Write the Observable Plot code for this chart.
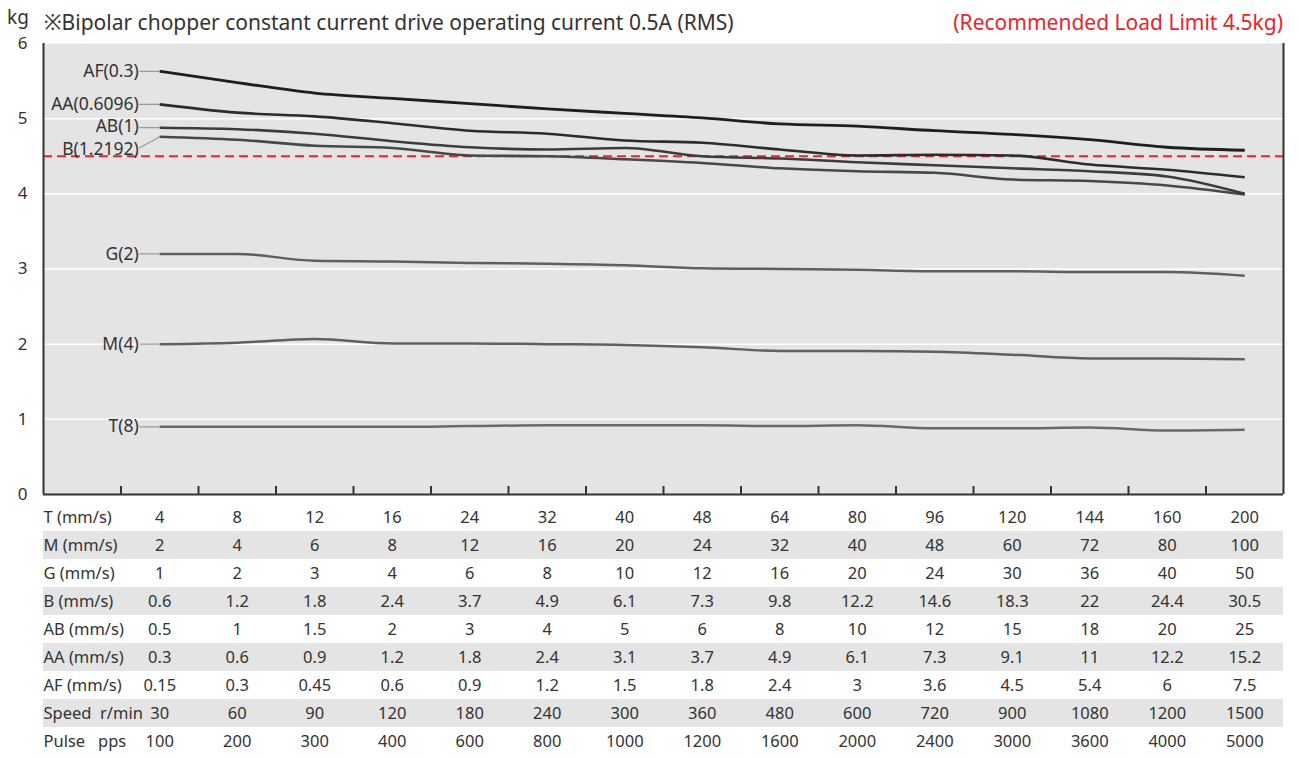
<!DOCTYPE html>
<html><head><meta charset="utf-8">
<script src="https://cdn.jsdelivr.net/npm/d3@7"></script>
<script src="https://cdn.jsdelivr.net/npm/@observablehq/plot@0.6"></script>
<style>
body{margin:0;background:#fff;font-family:"Noto Sans",sans-serif;color:#333;}
#wrap{width:1298px;}
#head{position:relative;height:34px;white-space:nowrap;}
#kg{position:absolute;left:7px;top:3px;font-size:19px;line-height:28px;}
#title{position:absolute;left:44px;top:8px;font-size:21px;line-height:28px;}
#note{position:absolute;right:15px;top:8px;font-size:21px;line-height:28px;color:#e8242c;}
svg{display:block;}
</style></head><body>
<div id="wrap">
<div id="head"><span id="kg">kg</span><span id="title">※Bipolar chopper constant current drive operating current 0.5A (RMS)</span><span id="note">(Recommended Load Limit 4.5kg)</span></div>
<div id="chart"></div>
<div id="table"></div>
</div>
<script>
// ---- data ----
const seriesNames = ["AF(0.3)", "AA(0.6096)", "AB(1)", "B(1.2192)", "G(2)", "M(4)", "T(8)"];
const AF = [5.63, 5.48, 5.34, 5.27, 5.20, 5.13, 5.07, 5.01, 4.93, 4.90, 4.84, 4.79, 4.72, 4.62, 4.58];
const AA = [5.19, 5.08, 5.03, 4.94, 4.84, 4.80, 4.71, 4.68, 4.59, 4.51, 4.52, 4.51, 4.39, 4.32, 4.22];
const AB = [4.88, 4.86, 4.80, 4.70, 4.62, 4.59, 4.61, 4.50, 4.47, 4.42, 4.38, 4.34, 4.30, 4.23, 4.00];
const B  = [4.76, 4.72, 4.64, 4.61, 4.51, 4.50, 4.46, 4.41, 4.34, 4.30, 4.28, 4.19, 4.17, 4.11, 3.99];
const G  = [3.20, 3.20, 3.11, 3.10, 3.08, 3.07, 3.05, 3.01, 3.00, 2.99, 2.97, 2.97, 2.96, 2.96, 2.91];
const M  = [2.00, 2.02, 2.07, 2.01, 2.01, 2.00, 1.99, 1.96, 1.91, 1.91, 1.90, 1.86, 1.81, 1.81, 1.80];
const T  = [0.90, 0.90, 0.90, 0.90, 0.91, 0.92, 0.92, 0.92, 0.91, 0.92, 0.88, 0.88, 0.89, 0.85, 0.86];
const seriesValues = [AF, AA, AB, B, G, M, T];
const loadLimit = 4.5;
const yTicks = [0, 1, 2, 3, 4, 5, 6];
const gridValues = [1, 2, 3, 4, 5];

const rowLabels = ["T (mm/s)", "M (mm/s)", "G (mm/s)", "B (mm/s)", "AB (mm/s)", "AA (mm/s)", "AF (mm/s)", "Speed\u00a0\u00a0r/min", "Pulse\u00a0\u00a0\u00a0pps"];
const rowT     = ["4","8","12","16","24","32","40","48","64","80","96","120","144","160","200"];
const rowM     = ["2","4","6","8","12","16","20","24","32","40","48","60","72","80","100"];
const rowG     = ["1","2","3","4","6","8","10","12","16","20","24","30","36","40","50"];
const rowB     = ["0.6","1.2","1.8","2.4","3.7","4.9","6.1","7.3","9.8","12.2","14.6","18.3","22","24.4","30.5"];
const rowAB    = ["0.5","1","1.5","2","3","4","5","6","8","10","12","15","18","20","25"];
const rowAA    = ["0.3","0.6","0.9","1.2","1.8","2.4","3.1","3.7","4.9","6.1","7.3","9.1","11","12.2","15.2"];
const rowAF    = ["0.15","0.3","0.45","0.6","0.9","1.2","1.5","1.8","2.4","3","3.6","4.5","5.4","6","7.5"];
const rowSpeed = ["30","60","90","120","180","240","300","360","480","600","720","900","1080","1200","1500"];
const rowPulse = ["100","200","300","400","600","800","1000","1200","1600","2000","2400","3000","3600","4000","5000"];
const tableRows = [rowT, rowM, rowG, rowB, rowAB, rowAA, rowAF, rowSpeed, rowPulse];

// ---- styles ----
const lineColors = ["#1e1e1e", "#2c2c2c", "#3c3c3c", "#484848", "#5f5f5f", "#606060", "#686868"];
const lineWidths = [2.8, 2.6, 2.6, 2.6, 2.5, 2.5, 2.5];
const labelDy = [0, 0, -1, 13, 0, 0, 0];
const leaderDy = [0, 0, 0, 11, 0, 0, 0];

// x slots: first slot is the row-label column, then 15 data columns
const nCols = rowPulse.length;
const xDomain = [0, nCols + 1];
const colPos = rowPulse.map((_, i) => i + 1.5);
const tickPos = rowPulse.map((_, i) => i + 1);

const lineData = [];
seriesNames.forEach((s, k) => seriesValues[k].forEach((v, i) => lineData.push({series: s, pos: colPos[i], value: v})));

const leaderShape = {draw(context, l) { context.moveTo(0, 0); context.lineTo(0, -l); }};

const marks = [
  Plot.frame({fill: "#e3e4e3", stroke: null}),
  Plot.ruleY(gridValues, {stroke: "#fff", strokeWidth: 1.5}),
  Plot.ruleY([loadLimit], {stroke: "#e8242c", strokeWidth: 2, strokeDasharray: "9,5"}),
];
seriesNames.forEach((s, k) => {
  const first = [{pos: colPos[0], value: seriesValues[k][0], label: s}];
  const gap = 20;
  marks.push(Plot.vector(first, {
    x: "pos", y: "value", anchor: "start", shape: leaderShape,
    length: Math.hypot(gap, leaderDy[k]),
    rotate: 270 - Math.atan2(leaderDy[k], gap) * 180 / Math.PI,
    stroke: "#9a9a9a", strokeWidth: 1.2
  }));
  marks.push(Plot.text(first, {
    x: "pos", y: "value", text: "label", textAnchor: "end",
    dx: -gap - 1, dy: labelDy[k], fontSize: 17.5, fill: "#333"
  }));
});
seriesNames.slice().reverse().forEach((s) => {
  const k = seriesNames.indexOf(s);
  marks.push(Plot.line(lineData.filter(d => d.series === s), {
    x: "pos", y: "value", curve: "monotone-x",
    stroke: lineColors[k], strokeWidth: lineWidths[k], strokeLinecap: "butt"
  }));
});
marks.push(
  Plot.ruleX(tickPos, {y1: 0, y2: 0, insetTop: -8, stroke: "#333", strokeWidth: 2}),
  Plot.ruleX([xDomain[0], xDomain[1]], {stroke: "#333", strokeWidth: 2}),
  Plot.ruleY([0], {stroke: "#333", strokeWidth: 2}),
  Plot.axisY(yTicks, {tickSize: 0, tickPadding: 16, fontSize: 17, label: null, fill: "#333", tickFormat: d => String(d)})
);

const chart = Plot.plot({
  width: 1298, height: 466,
  marginLeft: 43, marginRight: 15, marginTop: 9, marginBottom: 6,
  style: {fontFamily: "Noto Sans", background: "transparent", overflow: "visible"},
  x: {domain: xDomain, axis: null},
  y: {domain: [0, 6], axis: null},
  marks
});
document.getElementById("chart").append(chart);

// ---- table ----
const cells = [];
tableRows.forEach((r, j) => r.forEach((t, i) => cells.push({row: rowLabels[j], pos: colPos[i], text: t})));
const greyRows = rowLabels.filter((_, j) => j % 2 === 1);
const table = Plot.plot({
  width: 1298, height: 258,
  marginLeft: 43, marginRight: 15, marginTop: 0, marginBottom: 0,
  style: {fontFamily: "Noto Sans", background: "transparent"},
  x: {domain: xDomain, axis: null},
  y: {type: "band", domain: rowLabels, padding: 0, axis: null},
  marks: [
    Plot.barX(greyRows, {x1: xDomain[0], x2: xDomain[1], y: d => d, fill: "#e3e4e3"}),
    Plot.text(rowLabels, {x: xDomain[0], y: d => d, text: d => d, textAnchor: "start", fontSize: 16.5, fill: "#333"}),
    Plot.text(cells, {x: "pos", y: "row", text: "text", fontSize: 16.5, fill: "#333"})
  ]
});
document.getElementById("table").append(table);
</script>
</body></html>
